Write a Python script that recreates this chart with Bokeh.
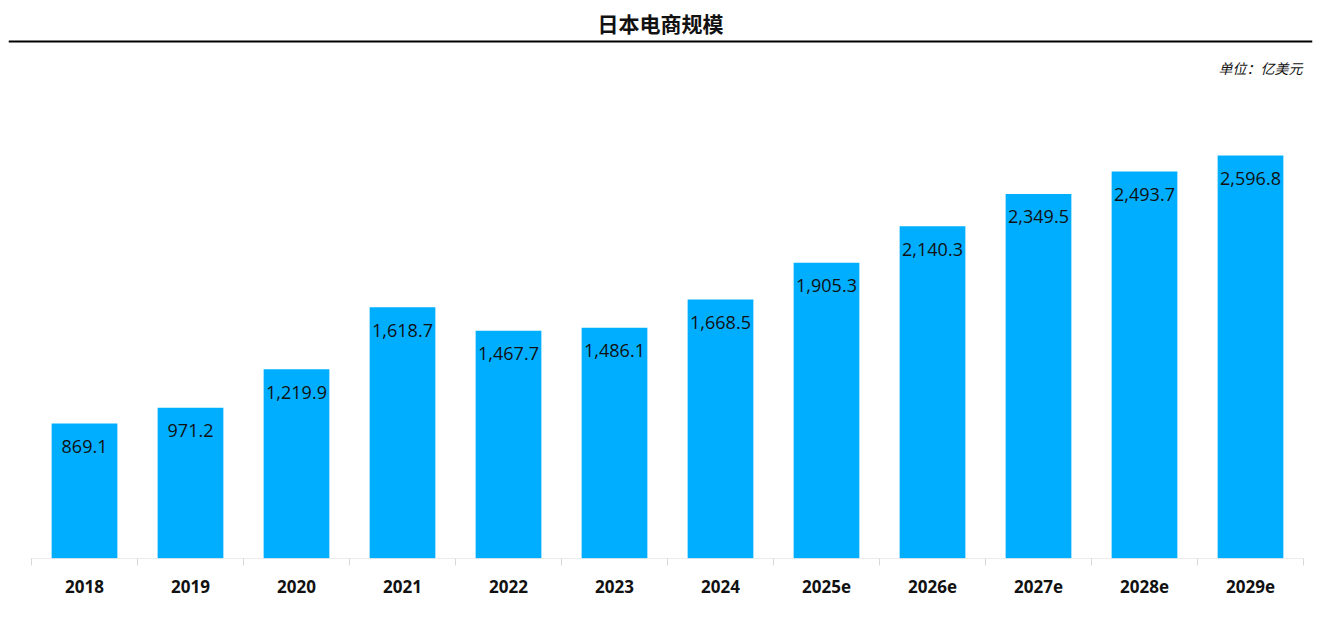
import numpy as np
from bokeh.plotting import figure
from bokeh.models import Range1d, FixedTicker, Span
from bokeh.core.properties import value
from bokeh.embed import file_html
from bokeh.resources import INLINE

# ---- data ----
years = ["2018", "2019", "2020", "2021", "2022", "2023", "2024",
         "2025e", "2026e", "2027e", "2028e", "2029e"]
sizes = [869.1, 971.2, 1219.9, 1618.7, 1467.7, 1486.1, 1668.5,
         1905.3, 2140.3, 2349.5, 2493.7, 2596.8]
labels = [f"{v:,.1f}" for v in sizes]
title_text = "日本电商规模"
unit_text = "单位：亿美元"

BAR_COLOR = "#00AEFF"
NUM_FONT = "Open Sans"
CJK_FONT = "Noto Sans CJK SC"

n = len(years)
xs = np.arange(n) + 0.5
cat_px = 106.0                  # pixels per category
pad_l, pad_r = 23 / cat_px, 9 / cat_px
px_per_unit = 0.15519           # vertical scale
frame_h = 558
y_end = frame_h / px_per_unit
x0, x1 = -pad_l, n + pad_r
xmid = (x0 + x1) / 2

p = figure(width=1320, height=610,
           x_range=Range1d(x0, x1), y_range=Range1d(0, y_end),
           output_backend="svg", toolbar_location=None, title=None,
           min_border_left=8, min_border_right=8,
           min_border_top=0, min_border_bottom=52)

p.grid.visible = False
p.yaxis.visible = False
p.outline_line_color = None

# title and header rule
p.text(x=[xmid], y=[y_end], text=[title_text], text_font=value(CJK_FONT),
       text_font_size="21px", text_font_style="bold", text_color="#111111",
       text_align="center", text_baseline="middle", y_offset=22)
p.add_layout(Span(location=y_end - 41 / px_per_unit, dimension="width",
                  line_color="black", line_width=2))

# unit label
p.text(x=[n], y=[y_end], text=[unit_text], text_font=value(CJK_FONT),
       text_font_size="14px", text_font_style="italic", text_color="#111111",
       text_align="right", text_baseline="middle", x_offset=-1, y_offset=67)

# bars
p.vbar(x=xs, top=sizes, width=0.62, bottom=0,
       fill_color=BAR_COLOR, line_color=None)
p.text(x=xs, y=sizes, text=labels, text_font=value(NUM_FONT),
       text_font_size="18px", text_color="#111111", text_align="center",
       text_baseline="middle", y_offset=23)

# baseline between the outer category boundaries
p.segment(x0=[0], y0=[0], x1=[n], y1=[0], line_color="#d9d9d9", line_width=1)

ax = p.xaxis[0]
ax.ticker = FixedTicker(ticks=list(xs), minor_ticks=list(np.arange(n + 1)))
ax.major_label_overrides = {float(x): y for x, y in zip(xs, years)}
ax.axis_line_color = None
ax.major_tick_line_color = None
ax.major_tick_out = 0
ax.major_tick_in = 0
ax.minor_tick_line_color = "#d9d9d9"
ax.minor_tick_out = 7
ax.minor_tick_in = 0
ax.major_label_text_font = NUM_FONT
ax.major_label_text_font_size = "17px"
ax.major_label_text_font_style = "bold"
ax.major_label_text_color = "#111111"
ax.major_label_standoff = 14

open("out.html", "w").write(file_html(p, INLINE))
